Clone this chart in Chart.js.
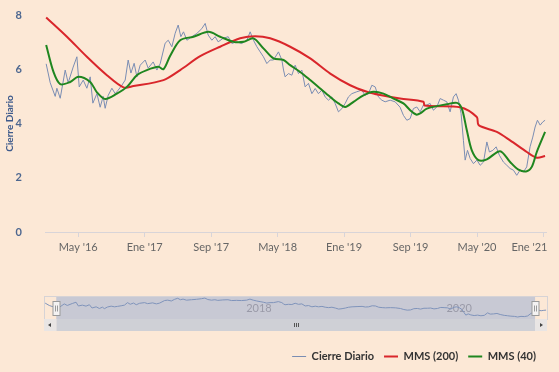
<!DOCTYPE html>
<html>
<head>
<meta charset="utf-8">
<script src="https://cdn.jsdelivr.net/npm/chart.js@4.4.1/dist/chart.umd.min.js"></script>
<style>
  body { margin: 0; background: #fce8d6; }
  #wrap { position: relative; width: 559px; height: 372px; background: #fce8d6; }
  canvas { position: absolute; left: 0; }
</style>
</head>
<body>
<div id="wrap">
  <canvas id="main" width="559" height="372" style="top:0"></canvas>
  <canvas id="nav" width="559" height="50" style="top:288px"></canvas>
</div>
<script>
// months counted from Jan 2016
const closeMonths = [0.14,0.63,1.23,1.43,1.83,2.43,2.79,3.39,3.84,4.12,4.6,5.04,5.44,5.76,6.25,6.64,7.0,7.24,7.61,8.05,8.45,8.81,9.25,9.65,10.01,10.34,10.73,11.06,11.46,12.06,12.42,13.02,13.47,13.86,14.46,14.83,15.27,15.67,16.03,16.35,16.67,17.08,17.68,18.28,18.88,19.28,19.64,20.08,20.48,20.84,21.44,22.05,22.49,23.09,23.69,24.3,24.69,25.09,25.5,25.9,26.29,26.7,27.1,27.5,28.1,28.51,28.71,28.9,29.3,29.71,30.11,30.51,30.91,31.31,31.71,32.12,32.52,32.91,33.32,33.72,34.12,34.52,34.92,35.32,35.73,36.13,36.52,36.93,37.53,38.13,38.53,38.93,39.34,39.74,40.13,40.54,40.94,41.54,42.14,42.74,43.14,43.55,43.95,44.34,44.75,45.15,45.55,45.96,46.35,46.75,47.16,47.56,47.96,48.36,48.76,49.16,49.48,49.76,50.08,50.36,50.57,50.85,51.17,51.57,51.98,52.38,52.78,53.18,53.49,53.9,54.3,54.69,55.17,55.58,55.98,56.38,56.78,57.18,57.58,57.98,58.38,58.71,58.99,59.27,59.6,59.92,60.19];
const closeValues = [6.2,5.5,5.0,5.3,4.93,5.97,5.5,6.08,6.46,5.35,5.6,5.3,5.72,4.75,5.1,4.6,5.0,4.56,5.04,5.3,5.1,5.23,5.41,5.6,6.34,5.86,6.22,5.72,6.15,6.34,6.04,6.27,5.97,6.2,6.96,7.07,6.83,7.33,7.63,7.2,7.38,7.07,7.2,7.32,7.5,7.69,7.26,7.07,7.2,7.01,7.14,7.2,6.95,7.01,6.95,7.07,7.38,7.07,6.83,6.64,6.46,6.21,6.34,6.34,6.64,6.34,5.97,5.72,5.84,5.78,6.15,5.84,5.97,5.35,5.48,5.1,5.29,5.1,5.23,4.98,4.86,4.98,4.74,4.43,4.55,4.74,4.98,5.1,5.17,5.23,5.04,5.1,5.41,5.35,4.98,4.86,4.8,4.86,4.8,4.6,4.3,4.12,4.18,4.55,4.61,4.43,4.68,4.68,4.74,4.49,4.61,4.92,4.86,4.8,4.43,4.98,5.1,4.86,4.37,3.38,2.65,3.01,2.71,2.52,2.65,2.46,2.58,3.32,2.95,3.01,3.14,2.83,2.58,2.46,2.34,2.28,2.09,2.28,2.21,2.4,3.14,3.5,3.87,4.12,3.94,4.06,4.12];

const mms200Months = [0.14,2.64,5.04,7.45,9.45,10.65,14.26,16.27,18.68,21.08,23.49,25.29,27.1,29.51,31.92,34.33,36.73,38.74,40.34,42.74,45.55,45.69,49.96,51.97,52.19,54.38,55.98,57.99,59.19,60.19];
const mms200Values = [7.91,7.2,6.46,5.78,5.33,5.38,5.6,5.97,6.48,6.83,7.14,7.22,7.14,6.83,6.4,5.84,5.41,5.17,5.05,4.92,4.8,4.66,4.6,4.24,3.94,3.69,3.38,2.95,2.74,2.8];

const mms40Months = [0.14,1.02,1.83,3.03,4.03,5.44,6.25,7.24,8.65,9.86,11.06,12.26,13.66,14.26,15.07,16.27,17.87,19.68,21.08,22.68,23.89,25.09,26.29,27.5,28.71,29.51,30.71,31.92,33.12,34.33,35.32,36.13,37.13,38.33,39.53,40.74,41.94,43.14,43.95,44.67,45.15,45.96,47.16,48.36,49.57,50.17,50.77,51.37,52.17,53.18,54.78,55.98,56.98,57.99,58.59,59.19,60.19];
const mms40Values = [6.89,5.9,5.45,5.53,5.72,5.53,5.15,4.9,5.1,5.35,5.78,5.97,6.09,6.0,6.5,7.07,7.2,7.38,7.2,7.01,7.01,7.14,6.77,6.4,6.34,6.15,5.9,5.6,5.29,4.98,4.74,4.61,4.8,5.04,5.17,5.1,4.92,4.74,4.49,4.33,4.37,4.55,4.64,4.71,4.76,4.55,3.75,3.01,2.65,2.68,2.98,2.58,2.3,2.24,2.4,2.95,3.69];

const tickMonths = [4, 12, 20, 28, 36, 44, 52, 60];
const tickLabels = ["May '16", "Ene '17", "Sep '17", "May '18", "Ene '19", "Sep '19", "May '20", "Ene '21          "];
const navYearMonths = [24, 48];
const navYearLabels = ['2018', '2020'];
const navRange = [1.47, 58.87];

const font = 'Lato';

function pts(xs, ys) {
  return xs.map((m, i) => ({x: m, y: ys[i]}));
}

new Chart(document.getElementById('main'), {
  type: 'line',
  data: {
    datasets: [
      {label: 'Cierre Diario', data: pts(closeMonths, closeValues), borderColor: '#7a8db3', borderWidth: 1, pointRadius: 0, tension: 0, order: 3},
      {label: 'MMS (200)', data: pts(mms200Months, mms200Values), borderColor: '#d9262b', borderWidth: 2, pointRadius: 0, tension: 0.3, order: 2},
      {label: 'MMS (40)', data: pts(mms40Months, mms40Values), borderColor: '#1f861f', borderWidth: 2, pointRadius: 0, tension: 0.3, order: 1}
    ]
  },
  options: {
    responsive: false,
    animation: false,
    layout: {padding: {top: 15, right: 13, left: 0, bottom: 0}},
    plugins: {
      tooltip: {enabled: false},
      legend: {
        position: 'bottom',
        align: 'end',
        labels: {
          usePointStyle: true,
          pointStyle: 'line',
          pointStyleWidth: 14,
          color: '#333',
          padding: 10,
          font: {family: font, size: 11, weight: 'bold'},
          sort: (a, b) => a.datasetIndex - b.datasetIndex
        }
      }
    },
    scales: {
      x: {
        type: 'linear', min: 0, max: 60.3,
        afterBuildTicks: s => { s.ticks = tickMonths.map(v => ({value: v})); },
        afterFit: s => { s.height = 109; s.paddingLeft = 0; s.paddingRight = 0; },
        ticks: {
          callback: v => tickLabels[tickMonths.indexOf(v)],
          color: '#666', font: {family: font, size: 11},
          maxRotation: 0, autoSkip: false, padding: 4
        },
        grid: {drawOnChartArea: false, tickLength: 5, color: '#d8d4d8'},
        border: {color: '#d8d4d8'}
      },
      y: {
        min: 0, max: 8,
        afterFit: s => { s.width = 45; s.paddingTop = 0; s.paddingBottom = 0; },
        ticks: {stepSize: 2, color: '#4d6790', padding: 15, font: {family: font, size: 11, weight: 'bold'}},
        grid: {display: false},
        border: {display: false},
        title: {display: true, text: 'Cierre Diario', color: '#3f5b8c', font: {family: font, size: 10, weight: 'bold'}}
      }
    }
  }
});

const navigatorPlugin = {
  id: 'navigator',
  beforeDatasetsDraw(chart) {
    const {ctx, chartArea: a, scales: {x}} = chart;
    const lx = x.getPixelForValue(navRange[0]);
    const rx = x.getPixelForValue(navRange[1]);
    ctx.save();
    ctx.fillStyle = 'rgba(103,143,208,0.35)';
    ctx.fillRect(lx, a.top, rx - lx, a.bottom - a.top);
    ctx.fillStyle = '#9a9aa8';
    ctx.font = '11px ' + font;
    ctx.textBaseline = 'middle';
    navYearMonths.forEach((m, i) => {
      ctx.fillText(navYearLabels[i], x.getPixelForValue(m) + 2, (a.top + a.bottom) / 2 + 1);
    });
    ctx.restore();
  },
  afterDraw(chart) {
    const {ctx, chartArea: a, scales: {x}} = chart;
    const lx = Math.round(x.getPixelForValue(navRange[0])) + 0.5;
    const rx = Math.round(x.getPixelForValue(navRange[1])) + 0.5;
    ctx.save();
    // outline
    ctx.strokeStyle = '#d6d3d6';
    ctx.lineWidth = 1;
    ctx.strokeRect(Math.round(a.left) + 0.5, Math.round(a.top) + 0.5, a.right - a.left, a.bottom - a.top);
    // scrollbar
    const sy = a.bottom, sh = 12;
    ctx.fillStyle = '#eee7e3';
    ctx.fillRect(a.left, sy, a.right - a.left, sh);
    ctx.fillStyle = '#cfd0d6';
    ctx.fillRect(lx, sy, rx - lx, sh);
    ctx.fillStyle = '#e9e5e4';
    ctx.fillRect(a.left, sy, 12, sh);
    ctx.fillRect(a.right - 12, sy, 12, sh);
    ctx.fillStyle = '#444';
    const my = sy + sh / 2;
    ctx.beginPath();
    ctx.moveTo(a.left + 4, my); ctx.lineTo(a.left + 7, my - 2); ctx.lineTo(a.left + 7, my + 2); ctx.closePath();
    ctx.moveTo(a.right - 4, my); ctx.lineTo(a.right - 7, my - 2); ctx.lineTo(a.right - 7, my + 2); ctx.closePath();
    ctx.fill();
    ctx.strokeStyle = '#555';
    const cx = Math.round((lx + rx) / 2) + 0.5;
    [-2, 0, 2].forEach(d => {
      ctx.beginPath(); ctx.moveTo(cx + d, my - 2); ctx.lineTo(cx + d, my + 2); ctx.stroke();
    });
    // handles
    const hy = Math.round((a.top + a.bottom) / 2 - 7) + 0.5;
    [lx, rx].forEach(hx => {
      ctx.fillStyle = '#f4f2f2';
      ctx.strokeStyle = '#9a9a9a';
      ctx.fillRect(hx - 3.5, hy, 7, 14);
      ctx.strokeRect(hx - 3.5, hy, 7, 14);
      ctx.beginPath();
      ctx.moveTo(hx - 1, hy + 4); ctx.lineTo(hx - 1, hy + 10);
      ctx.moveTo(hx + 1, hy + 4); ctx.lineTo(hx + 1, hy + 10);
      ctx.stroke();
    });
    ctx.restore();
  }
};

new Chart(document.getElementById('nav'), {
  type: 'line',
  data: {
    datasets: [{data: pts(closeMonths, closeValues), borderColor: '#7f93ba', borderWidth: 1, pointRadius: 0, tension: 0}]
  },
  options: {
    responsive: false,
    animation: false,
    layout: {padding: {left: 44, right: 12, top: 8, bottom: 19}},
    plugins: {legend: {display: false}, tooltip: {enabled: false}},
    scales: {
      x: {type: 'linear', min: 0, max: 60.3, display: false},
      y: {min: 1.5, max: 8.3, display: false}
    }
  },
  plugins: [navigatorPlugin]
});
</script>
</body>
</html>
